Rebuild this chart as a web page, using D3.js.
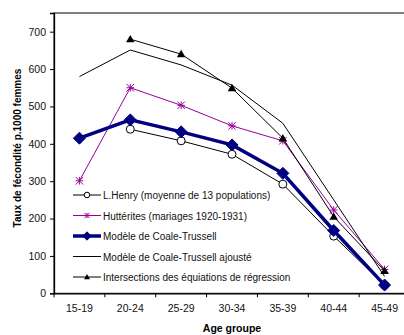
<!DOCTYPE html>
<html>
<head>
<meta charset="utf-8">
<script src="https://cdn.jsdelivr.net/npm/d3@7"></script>
<style>
	body { margin: 0; background: #fff; }
	svg { display: block; font-family: "Liberation Sans", Arial, sans-serif; }
</style>
</head>
<body>
<svg id="chart" width="404" height="335"></svg>
<script>
const categories = ["15-19", "20-24", "25-29", "30-34", "35-39", "40-44", "45-49"]
const yTicks = [0, 100, 200, 300, 400, 500, 600, 700]

const henry = [null, 439, 408, 372, 292, 153, 22]
const hutterites = [301, 550, 503, 448, 408, 223, 64]
const coaleTrussell = [415, 464, 432, 397, 321, 168, 22]
const coaleAjuste = [580, 651, 611, 557, 455, 250, 45]
const intersections = [null, 680, 640, 549, 415, 205, 60]

const seriesNames = [
	"L.Henry (moyenne de 13 populations)",
	"Huttérites (mariages 1920-1931)",
	"Modèle de Coale-Trussell",
	"Modèle de Coale-Trussell ajousté",
	"Intersections des équiations de régression"
]

const series = [
	{ name: seriesNames[0], values: henry, color: "#000", width: 1, marker: "circle" },
	{ name: seriesNames[1], values: hutterites, color: "#990099", width: 1, marker: "star" },
	{ name: seriesNames[2], values: coaleTrussell, color: "#000080", width: 3.5, marker: "diamond" },
	{ name: seriesNames[3], values: coaleAjuste, color: "#000", width: 1, marker: null },
	{ name: seriesNames[4], values: intersections, color: "#000", width: 1, marker: "triangle" }
]

const svg = d3.select("#chart")
const plotLeft = 54, plotTop = 13, plotRight = 410, plotBottom = 293.3

const x = d3.scaleBand().domain(categories).range([plotLeft, plotRight])
const y = d3.scaleLinear().domain([0, 750]).range([plotBottom, plotTop])

// plot frame
svg.append("rect")
	.attr("x", plotLeft).attr("y", plotTop)
	.attr("width", plotRight - plotLeft).attr("height", plotBottom - plotTop)
	.attr("fill", "none").attr("stroke", "#000").attr("stroke-width", 1)

// axes
const yAxis = svg.append("g")
	.attr("transform", `translate(${plotLeft},0)`)
	.call(d3.axisLeft(y).tickValues(yTicks).tickSize(4).tickPadding(4))
yAxis.select(".domain").attr("stroke-width", 1.3)

const xAxis = svg.append("g")
	.attr("transform", `translate(0,${plotBottom})`)
	.call(d3.axisBottom(x).tickSize(0).tickPadding(11))
xAxis.select(".domain").attr("stroke-width", 1.3)

// category separators
svg.append("g").selectAll("line")
	.data(d3.range(categories.length + 1))
	.join("line")
	.attr("x1", i => plotLeft + i * x.step()).attr("x2", i => plotLeft + i * x.step())
	.attr("y1", plotBottom).attr("y2", plotBottom + 4)
	.attr("stroke", "#000")

svg.selectAll(".tick text").attr("font-size", 10.5).attr("fill", "#111").attr("font-family", null)

// titles
svg.append("text")
	.attr("transform", `translate(21,148) rotate(-90)`)
	.attr("text-anchor", "middle")
	.attr("font-size", 10).attr("font-weight", "bold")
	.text("Taux de fécondité p.1000 femmes")

svg.append("text")
	.attr("x", 232).attr("y", 332)
	.attr("text-anchor", "middle")
	.attr("font-size", 10.5).attr("font-weight", "bold")
	.text("Age groupe")

function drawMarker(g, marker, color, cx, cy, size) {
	if (marker === "circle") {
		g.append("circle").attr("cx", cx).attr("cy", cy).attr("r", size * 0.8)
			.attr("fill", "#fff").attr("stroke", color).attr("stroke-width", 1)
	} else if (marker === "diamond") {
		const s = size * 1.2
		g.append("path").attr("d", `M${cx},${cy - s}L${cx + s},${cy}L${cx},${cy + s}L${cx - s},${cy}Z`)
			.attr("fill", color).attr("stroke", color)
	} else if (marker === "triangle") {
		const s = size * 0.85
		g.append("path").attr("d", `M${cx},${cy - s}L${cx + s},${cy + s * 0.75}L${cx - s},${cy + s * 0.75}Z`)
			.attr("fill", color)
	} else if (marker === "star") {
		const s = size * 0.75
		g.append("path")
			.attr("d", `M${cx - s},${cy - s}L${cx + s},${cy + s}M${cx - s},${cy + s}L${cx + s},${cy - s}M${cx},${cy - s}L${cx},${cy + s}M${cx - s},${cy}L${cx + s},${cy}`)
			.attr("stroke", color).attr("stroke-width", 1).attr("fill", "none")
	}
}

const line = d3.line()
	.defined(d => d != null)
	.x((d, i) => x(categories[i]) + x.bandwidth() / 2)
	.y(d => y(d))

const plot = svg.append("g")
series.forEach(s => {
	plot.append("path")
		.attr("d", line(s.values))
		.attr("fill", "none")
		.attr("stroke", s.color)
		.attr("stroke-width", s.width)
		.attr("stroke-linejoin", "miter")
	const mg = plot.append("g")
	s.values.forEach((v, i) => {
		if (v == null || !s.marker) return
		drawMarker(mg, s.marker, s.color, x(categories[i]) + x.bandwidth() / 2, y(v), 5)
	})
})

// legend
const legendY = [195, 215.5, 236, 256.5, 277]
const legend = svg.append("g")
series.forEach((s, i) => {
	const ly = legendY[i]
	legend.append("line")
		.attr("x1", 73).attr("x2", 101).attr("y1", ly).attr("y2", ly)
		.attr("stroke", s.color).attr("stroke-width", s.width)
	if (s.marker) drawMarker(legend, s.marker, s.color, 87, ly, 3.5)
	legend.append("text")
		.attr("x", 103).attr("y", ly + 4)
		.attr("font-size", 10).attr("fill", "#111")
		.text(s.name)
})
</script>
</body>
</html>
